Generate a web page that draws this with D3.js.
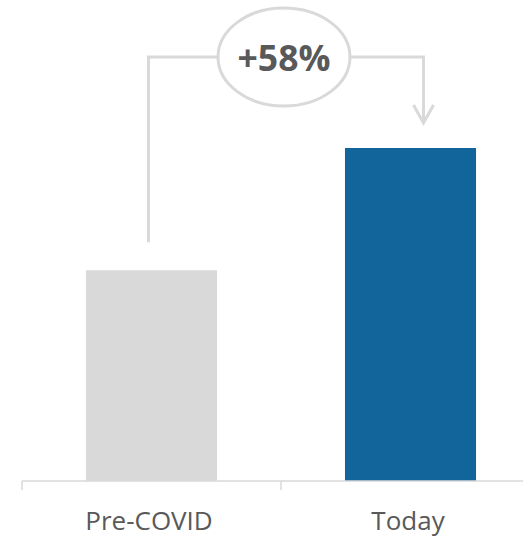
<!DOCTYPE html>
<html>
<head>
<meta charset="utf-8">
<script src="https://cdn.jsdelivr.net/npm/d3@7"></script>
<style>
  html, body { margin: 0; padding: 0; background: #fff; }
  svg { display: block; }
</style>
</head>
<body>
<svg id="chart" width="523" height="538"></svg>
<script>
// Index of spending: pre-pandemic baseline vs today
const categories = ["Pre-COVID", "Today"];
const values = [100, 158];
const barColors = ["#d9d9d9", "#11659b"];
const changeLabel = "+58%";

const svg = d3.select("#chart");
const W = 523, H = 538;
const baseY = 481;

const x = d3.scaleBand().domain(categories).range([22, 540]).padding(0);
const y = d3.scaleLinear().domain([0, d3.max(values)]).range([baseY, 148]);

const barW = x.bandwidth() * 0.506;
const barOff = (x.bandwidth() - barW) / 2;

// Bars
svg.selectAll("rect.bar")
  .data(categories)
  .join("rect")
  .attr("class", "bar")
  .attr("x", d => x(d) + barOff)
  .attr("width", barW)
  .attr("y", (d, i) => y(values[i]))
  .attr("height", (d, i) => baseY - y(values[i]))
  .attr("fill", (d, i) => barColors[i]);

// Category axis with ticks at band boundaries
const axisG = svg.append("g").attr("transform", `translate(0,${baseY})`);
axisG.append("line")
  .attr("x1", 22).attr("x2", W)
  .attr("stroke", "#d9d9d9").attr("stroke-width", 1.5);
const boundaries = categories.map(c => x(c)).concat([x.range()[1]]);
axisG.selectAll("line.tick")
  .data(boundaries)
  .join("line")
  .attr("class", "tick")
  .attr("x1", d => d).attr("x2", d => d)
  .attr("y1", 0).attr("y2", 9)
  .attr("stroke", "#d9d9d9").attr("stroke-width", 1.5);
axisG.selectAll("text.cat")
  .data(categories)
  .join("text")
  .attr("class", "cat")
  .attr("x", d => x(d) + x.bandwidth() / 2 - 2.5)
  .attr("y", 49)
  .attr("text-anchor", "middle")
  .attr("font-family", "'Open Sans', sans-serif")
  .attr("font-size", 26)
  .attr("fill", "#595959")
  .text(d => d);

// Change annotation: connector from first bar to second bar with an oval label
const stroke = "#d9d9d9";
const sw = 3;
const lineY = 57;
const leftX = x(categories[0]) + x.bandwidth() / 2 - 3;
const rightX = x(categories[1]) + x.bandwidth() / 2 + 13;
const ovalCx = 284, ovalRx = 66, ovalRy = 49;

svg.append("path")
  .attr("d", `M${leftX},${y(values[0]) - 28} V${lineY} H${ovalCx - ovalRx}`)
  .attr("fill", "none").attr("stroke", stroke).attr("stroke-width", sw);
svg.append("path")
  .attr("d", `M${ovalCx + ovalRx},${lineY} H${rightX} V${y(values[1]) - 25}`)
  .attr("fill", "none").attr("stroke", stroke).attr("stroke-width", sw);
svg.append("path")
  .attr("d", `M${rightX - 10},${y(values[1]) - 43} L${rightX},${y(values[1]) - 25} L${rightX + 10},${y(values[1]) - 43}`)
  .attr("fill", "none").attr("stroke", stroke).attr("stroke-width", sw)
  .attr("stroke-linejoin", "miter");

svg.append("ellipse")
  .attr("cx", ovalCx).attr("cy", lineY)
  .attr("rx", ovalRx).attr("ry", ovalRy)
  .attr("fill", "#fff").attr("stroke", stroke).attr("stroke-width", sw);

svg.append("text")
  .attr("x", ovalCx).attr("y", 71)
  .attr("text-anchor", "middle")
  .attr("font-family", "'Open Sans', sans-serif")
  .attr("font-weight", 700)
  .attr("font-size", 35.5)
  .attr("fill", "#595959")
  .text(changeLabel);
</script>
</body>
</html>
